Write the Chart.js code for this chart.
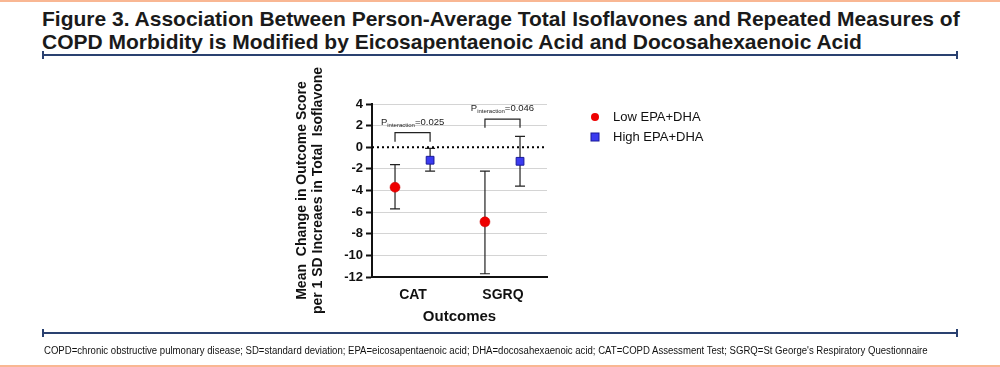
<!DOCTYPE html>
<html><head><meta charset="utf-8">
<script src="https://cdn.jsdelivr.net/npm/chart.js@4"></script>
<style>
html,body{margin:0;padding:0;background:#fff;width:1000px;height:367px;overflow:hidden;position:relative;font-family:"Liberation Sans",Arial,sans-serif;}
.orange{position:absolute;left:0;width:1000px;height:2px;background:#f9b793;}
.rule{position:absolute;left:42px;width:916px;height:2px;background:#2a4170;}
.rule:before,.rule:after{content:"";position:absolute;top:-3px;width:2px;height:8px;background:#2a4170;}
.rule:before{left:0}.rule:after{right:0}
#title{position:absolute;left:42px;top:7px;font-weight:bold;font-size:21px;line-height:23px;color:#1a1a1a;white-space:nowrap;transform-origin:0 0;}
#foot{position:absolute;left:44px;top:345px;font-size:10px;color:#111;white-space:nowrap;transform-origin:0 0;transform:scaleX(0.958);}
#wrap{position:absolute;left:290px;top:58px;width:470px;height:272px;}
</style></head>
<body>
<div class="orange" style="top:0"></div>
<div id="title">Figure 3. Association Between Person-Average Total Isoflavones and Repeated Measures of<br>COPD Morbidity is Modified by Eicosapentaenoic Acid and Docosahexaenoic Acid</div>
<div class="rule" style="top:54px"></div>
<div id="wrap"><canvas id="c" width="470" height="272"></canvas></div>
<div class="rule" style="top:332px"></div>
<div id="foot">COPD=chronic obstructive pulmonary disease; SD=standard deviation; EPA=eicosapentaenoic acid; DHA=docosahexaenoic acid; CAT=COPD Assessment Test; SGRQ=St George's Respiratory Questionnaire</div>
<div class="orange" style="top:365px"></div>
<script>
// ---- data ----
const categories = ["CAT", "SGRQ"];
const seriesNames = ["Low EPA+DHA", "High EPA+DHA"];
const lowMean = [-3.7, -6.9];
const lowLower = [-5.7, -11.7];
const lowUpper = [-1.6, -2.2];
const highMean = [-1.2, -1.3];
const highLower = [-2.2, -3.6];
const highUpper = [-0.1, 1.0];
const pLabels = ["0.025", "0.046"];
const bracketTop = [1.35, 2.6];
const bracketBottom = [0.5, 1.8];
const yTicks = [4, 2, 0, -2, -4, -6, -8, -10, -12];
const yTitleLines = ['Mean  Change in Outcome Score', 'per 1 SD Increaes in Total  Isoflavone'];
const groupOffset = [-0.2, 0.19];

const catPos = categories.map((c, i) => i + 1);
const lowData = catPos.map((x, i) => ({x: x + groupOffset[0], y: lowMean[i], lo: lowLower[i], hi: lowUpper[i]}));
const highData = catPos.map((x, i) => ({x: x + groupOffset[1], y: highMean[i], lo: highLower[i], hi: highUpper[i]}));

const FONT = '"Liberation Sans", Arial, sans-serif';

const errorBars = {
  id: 'errorBars',
  beforeDatasetsDraw(chart) {
    const {ctx, scales: {x, y}} = chart;
    ctx.save();
    ctx.strokeStyle = '#222';
    ctx.lineWidth = 1.2;
    chart.data.datasets.forEach(ds => {
      ds.data.forEach(p => {
        const px = x.getPixelForValue(p.x);
        const y1 = y.getPixelForValue(p.lo), y2 = y.getPixelForValue(p.hi);
        ctx.beginPath();
        ctx.moveTo(px, y1); ctx.lineTo(px, y2);
        ctx.moveTo(px - 5, y1); ctx.lineTo(px + 5, y1);
        ctx.moveTo(px - 5, y2); ctx.lineTo(px + 5, y2);
        ctx.stroke();
      });
    });
    // zero line
    const y0 = y.getPixelForValue(0);
    ctx.strokeStyle = '#000';
    ctx.lineWidth = 2;
    ctx.setLineDash([2, 3]);
    ctx.beginPath(); ctx.moveTo(x.left, y0); ctx.lineTo(x.right, y0); ctx.stroke();
    ctx.setLineDash([]);
    // brackets
    ctx.strokeStyle = '#222';
    ctx.lineWidth = 1.2;
    ctx.fillStyle = '#222';
    ctx.textBaseline = 'alphabetic';
    catPos.forEach((c, i) => {
      const xa = x.getPixelForValue(c + groupOffset[0]);
      const xb = x.getPixelForValue(c + groupOffset[1]);
      const yt = y.getPixelForValue(bracketTop[i]), yb = y.getPixelForValue(bracketBottom[i]);
      ctx.beginPath();
      ctx.moveTo(xa, yb); ctx.lineTo(xa, yt); ctx.lineTo(xb, yt); ctx.lineTo(xb, yb);
      ctx.stroke();
      const base = yt - 8;
      ctx.font = '9.5px ' + FONT;
      const w1 = ctx.measureText('P').width;
      ctx.font = '6px ' + FONT;
      const w2 = ctx.measureText('interaction').width;
      ctx.font = '9.5px ' + FONT;
      const w3 = ctx.measureText('=' + pLabels[i]).width;
      let sx = (xa + xb) / 2 - (w1 + w2 + w3) / 2;
      ctx.fillText('P', sx, base);
      ctx.font = '6px ' + FONT;
      ctx.fillText('interaction', sx + w1, base + 2);
      ctx.font = '9.5px ' + FONT;
      ctx.fillText('=' + pLabels[i], sx + w1 + w2, base);
    });
    ctx.restore();
  },
  afterDraw(chart) {
    const {ctx} = chart;
    ctx.save();
    // legend
    const items = [[305, 59], [305, 79]];
    chart.data.datasets.forEach((ds, i) => {
      const [lx, ly] = items[i];
      ctx.fillStyle = ds.backgroundColor;
      ctx.strokeStyle = ds.borderColor;
      ctx.lineWidth = 1;
      if (ds.pointStyle === 'circle') {
        ctx.beginPath(); ctx.arc(lx, ly, 4, 0, Math.PI * 2); ctx.fill();
      } else {
        ctx.fillRect(lx - 4, ly - 4, 8, 8); ctx.strokeRect(lx - 4, ly - 4, 8, 8);
      }
      ctx.fillStyle = '#111';
      ctx.font = '13px ' + FONT;
      ctx.textBaseline = 'middle';
      ctx.fillText(ds.label, lx + 18, ly);
    });
    ctx.restore();
  }
};

new Chart(document.getElementById('c'), {
  type: 'scatter',
  data: {
    datasets: [
      {label: seriesNames[0], data: lowData, pointStyle: 'circle', pointRadius: 5, pointHoverRadius: 5,
       backgroundColor: '#ee0000', borderColor: '#cc0000', borderWidth: 0.5},
      {label: seriesNames[1], data: highData, pointStyle: 'rect', pointRadius: 5.5, pointHoverRadius: 5.5,
       backgroundColor: '#3b3bf0', borderColor: '#1a1a9a', borderWidth: 1}
    ]
  },
  options: {
    responsive: false,
    animation: false,
    layout: {padding: {left: 4, right: 213, top: 46, bottom: 0}},
    plugins: {legend: {display: false}, tooltip: {enabled: false}},
    scales: {
      x: {
        type: 'linear', min: 0.544, max: 2.49,
        afterBuildTicks: s => { s.ticks = catPos.map(v => ({value: v})); },
        afterFit: s => { s.height = 53; },
        ticks: {callback: v => categories[v - 1], color: '#111', font: {size: 14, weight: 'bold', family: FONT}, padding: 4, maxRotation: 0},
        grid: {display: false, drawOnChartArea: false, drawTicks: true, tickLength: 6, tickColor: '#111', tickWidth: 2},
        border: {display: true, color: '#111', width: 2},
        title: {display: true, text: 'Outcomes', color: '#111', font: {size: 15, weight: 'bold', family: FONT}, padding: {top: 2}}
      },
      y: {
        min: -12, max: 4,
        afterBuildTicks: s => { s.ticks = yTicks.map(v => ({value: v})); },
        afterFit: s => { s.width = 78; },
        ticks: {color: '#111', font: {size: 13, weight: 'bold', family: FONT}, padding: 3},
        grid: {color: ctx => ctx.tick && ctx.tick.value === 0 ? 'rgba(0,0,0,0)' : '#d4d4d4', lineWidth: 1, borderDash: [3, 2], drawTicks: true, tickLength: 6, tickColor: '#111', tickWidth: 2, tickBorderDash: [0, 0]},
        border: {display: true, color: '#111', width: 2},
        title: {display: true, text: yTitleLines, color: '#111', font: {size: 14, weight: 'bold', family: FONT, lineHeight: 1.15}, padding: {top: 0, bottom: 0}}
      }
    }
  },
  plugins: [errorBars]
});
</script>
</body></html>
